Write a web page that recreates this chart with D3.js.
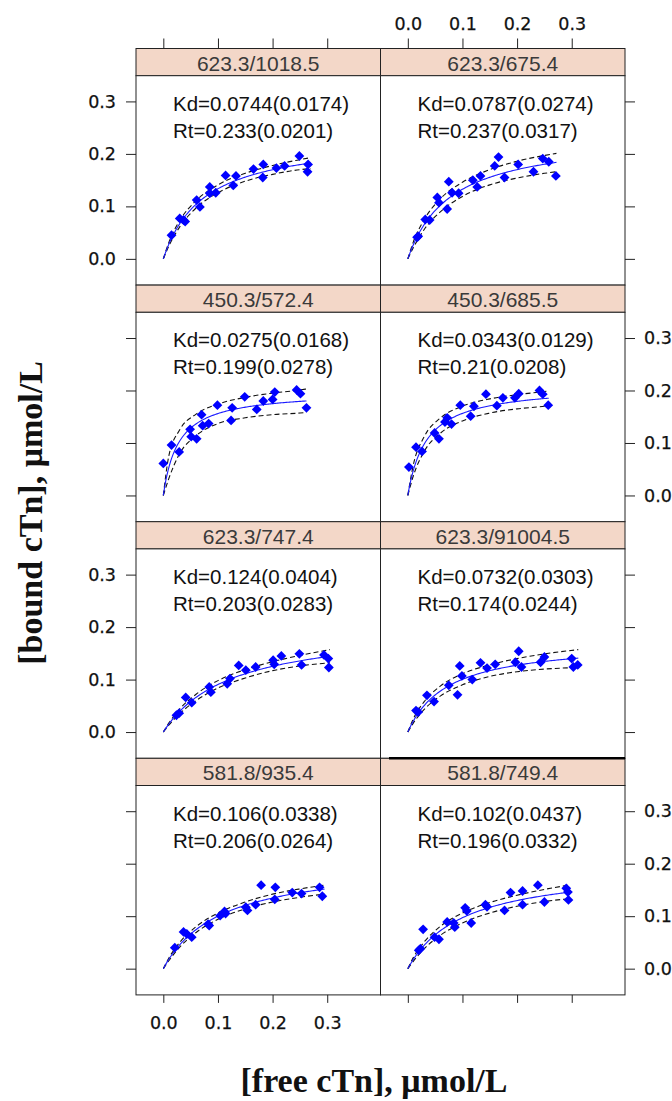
<!DOCTYPE html>
<html><head><meta charset="utf-8">
<script src="https://cdn.jsdelivr.net/npm/d3@7"></script>
<style>
body{margin:0;background:#fff;}
svg{display:block;}
.tick text{font-family:"DejaVu Sans",sans-serif;font-size:17.5px;fill:#111;stroke:#111;stroke-width:0.25px;}
.tick line{stroke:#222;stroke-width:1;}
</style>
</head><body>
<svg id="chart" width="672" height="1101"></svg>
<script>
// Panel names (row by row, left then right)
const panelNames = ["623.3/1018.5","623.3/675.4","450.3/572.4","450.3/685.5",
                    "623.3/747.4","623.3/91004.5","581.8/935.4","581.8/749.4"];
// Fitted binding parameters and their standard errors
const kdValues = [0.0744,0.0787,0.0275,0.0343,0.124,0.0732,0.106,0.102];
const kdErrors = ["0.0174","0.0274","0.0168","0.0129","0.0404","0.0303","0.0338","0.0437"];
const rtValues = [0.233,0.237,0.199,0.21,0.203,0.174,0.206,0.196];
const rtErrors = ["0.0201","0.0317","0.0278","0.0208","0.0283","0.0244","0.0264","0.0332"];

// Measured free cTn (x) per panel
const freeCTn = [
  [0.015,0.030,0.037,0.040,0.061,0.067,0.085,0.085,0.096,0.114,0.128,0.133,0.165,0.182,0.183,0.207,0.222,0.249,0.265,0.264],
  [0.017,0.019,0.032,0.040,0.054,0.057,0.072,0.075,0.081,0.093,0.119,0.127,0.133,0.159,0.166,0.177,0.202,0.230,0.247,0.258,0.271],
  [0.000,0.015,0.029,0.049,0.051,0.061,0.070,0.072,0.083,0.099,0.124,0.126,0.149,0.171,0.183,0.200,0.204,0.244,0.251,0.262],
  [0.002,0.015,0.026,0.049,0.057,0.068,0.072,0.080,0.096,0.115,0.121,0.143,0.163,0.174,0.196,0.203,0.241,0.247,0.257],
  [0.024,0.029,0.041,0.052,0.084,0.087,0.117,0.122,0.138,0.151,0.169,0.201,0.203,0.216,0.249,0.253,0.294,0.302,0.303],
  [0.015,0.019,0.035,0.048,0.075,0.091,0.095,0.099,0.118,0.133,0.145,0.160,0.197,0.203,0.208,0.243,0.250,0.300,0.303,0.311],
  [0.021,0.037,0.043,0.052,0.082,0.084,0.104,0.112,0.114,0.151,0.154,0.169,0.179,0.204,0.205,0.236,0.253,0.286,0.291],
  [0.020,0.023,0.028,0.049,0.057,0.072,0.086,0.084,0.105,0.108,0.116,0.142,0.145,0.177,0.188,0.210,0.210,0.238,0.250,0.290,0.293,0.294]
];
// Measured bound cTn (y) per panel
const boundCTn = [
  [0.045,0.077,0.074,0.071,0.112,0.099,0.137,0.125,0.126,0.159,0.140,0.158,0.171,0.155,0.180,0.173,0.177,0.196,0.180,0.166],
  [0.041,0.043,0.075,0.074,0.117,0.107,0.095,0.147,0.126,0.125,0.150,0.137,0.158,0.177,0.194,0.155,0.180,0.166,0.191,0.185,0.158],
  [0.061,0.096,0.083,0.126,0.112,0.108,0.154,0.133,0.137,0.172,0.143,0.167,0.188,0.164,0.180,0.183,0.197,0.201,0.194,0.167],
  [0.054,0.092,0.084,0.119,0.108,0.140,0.148,0.136,0.172,0.151,0.170,0.193,0.171,0.186,0.186,0.194,0.200,0.193,0.172],
  [0.032,0.036,0.066,0.056,0.086,0.076,0.092,0.102,0.127,0.118,0.124,0.137,0.129,0.145,0.149,0.128,0.147,0.140,0.123],
  [0.041,0.038,0.070,0.058,0.089,0.071,0.126,0.107,0.100,0.132,0.122,0.129,0.133,0.154,0.124,0.133,0.143,0.140,0.124,0.128],
  [0.040,0.070,0.066,0.060,0.085,0.082,0.101,0.109,0.105,0.117,0.111,0.122,0.159,0.132,0.155,0.145,0.143,0.155,0.138],
  [0.035,0.038,0.075,0.060,0.056,0.089,0.079,0.087,0.116,0.110,0.087,0.122,0.118,0.111,0.145,0.122,0.148,0.159,0.127,0.153,0.146,0.131]
];

// Upper end of the fitted range per panel
const fitEnd = [0.270,0.272,0.262,0.258,0.305,0.312,0.295,0.294];
// Confidence band: free cTn positions (last one is fitEnd) and bound values
const bandGrid = [0,0.01,0.03,0.06,0.1,0.15,0.2,0.25];
const bandUpper = [
  [0,0.031,0.073,0.111,0.141,0.163,0.178,0.189,0.193],
  [0,0.032,0.075,0.115,0.146,0.170,0.186,0.197,0.201],
  [0,0.075,0.125,0.155,0.174,0.187,0.195,0.201,0.203],
  [0,0.058,0.112,0.148,0.170,0.184,0.192,0.198,0.199],
  [0,0.017,0.044,0.072,0.098,0.119,0.134,0.146,0.157],
  [0,0.025,0.058,0.088,0.111,0.128,0.140,0.149,0.157],
  [0,0.020,0.050,0.080,0.106,0.127,0.142,0.152,0.159],
  [0,0.021,0.051,0.081,0.106,0.126,0.140,0.151,0.159]
];
const bandLower = [
  [0,0.024,0.061,0.097,0.126,0.148,0.161,0.170,0.172],
  [0,0.021,0.056,0.090,0.119,0.141,0.154,0.163,0.166],
  [0,0.032,0.080,0.114,0.137,0.148,0.154,0.157,0.158],
  [0,0.037,0.084,0.119,0.142,0.157,0.165,0.170,0.171],
  [0,0.013,0.035,0.060,0.084,0.103,0.117,0.126,0.132],
  [0,0.017,0.043,0.069,0.090,0.106,0.115,0.120,0.123],
  [0,0.015,0.041,0.069,0.094,0.114,0.127,0.136,0.142],
  [0,0.014,0.038,0.064,0.087,0.106,0.119,0.128,0.133]
];

const xTicks = [0,0.1,0.2,0.3];
const yTicks = [0,0.1,0.2,0.3];

// Layout
const colLeft = [136, 380.5];
const panelW = 245.5;
const gridTop = 48.5;
const rowH = 236.6;
const stripH = 27.2;
const bodyH = rowH - stripH;

const svg = d3.select("#chart");
const x = d3.scaleLinear().domain([-0.05, 0.3975]).range([0, panelW - 1]);
const y = d3.scaleLinear().domain([-0.05, 0.349]).range([bodyH, 0]);
const fmt = d3.format(".1f");

const line = d3.line().x(d => x(d[0])).y(d => y(d[1]));
const bandLine = d3.line().x(d => x(d[0])).y(d => y(d[1])).curve(d3.curveMonotoneX);
const diamond = d3.symbol(d3.symbolSquare, 48);

panelNames.forEach((name, i) => {
  const row = Math.floor(i / 2), col = i % 2;
  const gx = colLeft[col], gy = gridTop + row * rowH;
  const g = svg.append("g").attr("transform", `translate(${gx},${gy})`);

  // strip
  g.append("rect").attr("x", 0).attr("y", 0).attr("width", panelW - 1).attr("height", stripH)
    .attr("fill", "#f3d7c8").attr("stroke", "#222").attr("stroke-width", 1);
  g.append("text").attr("x", (panelW - 1) / 2).attr("y", stripH - 5)
    .attr("text-anchor", "middle").attr("font-family", "'Liberation Sans',Arial,sans-serif")
    .attr("font-size", 21).attr("fill", "#3a3a3a").text(name);

  const body = g.append("g").attr("transform", `translate(0,${stripH})`);
  body.append("rect").attr("width", panelW - 1).attr("height", bodyH)
    .attr("fill", "#fff").attr("stroke", "#222").attr("stroke-width", 1);

  // axes on the outer edges, alternating labelled / tick-only
  const noLab = () => "";
  if (col === 0) {
    body.append("g").call(d3.axisLeft(y).tickValues(yTicks).tickSize(10).tickPadding(10)
      .tickFormat(row % 2 === 0 ? fmt : noLab)).call(a => a.select(".domain").remove());
  } else {
    body.append("g").attr("transform", `translate(${panelW - 1},0)`)
      .call(d3.axisRight(y).tickValues(yTicks).tickSize(10).tickPadding(9)
      .tickFormat(row % 2 === 1 ? fmt : noLab)).call(a => a.select(".domain").remove());
  }
  if (row === 0) {
    g.append("g").call(d3.axisTop(x).tickValues(xTicks).tickSize(10).tickPadding(9)
      .tickFormat(col === 1 ? fmt : noLab)).call(a => a.select(".domain").remove());
  }
  if (row === 3) {
    body.append("g").attr("transform", `translate(0,${bodyH})`)
      .call(d3.axisBottom(x).tickValues(xTicks).tickSize(8).tickPadding(14)
      .tickFormat(col === 0 ? fmt : noLab)).call(a => a.select(".domain").remove());
  }

  // Kd / Rt annotation
  const ann = body.append("text").attr("font-family", "'Liberation Sans',Arial,sans-serif")
    .attr("font-size", 20.5).attr("fill", "#111");
  ann.append("tspan").attr("x", 37).attr("y", 35)
    .text(`Kd=${kdValues[i]}(${kdErrors[i]})`);
  ann.append("tspan").attr("x", 37).attr("y", 62)
    .text(`Rt=${rtValues[i]}(${rtErrors[i]})`);

  // confidence band (dashed)
  const bx = bandGrid.concat([fitEnd[i]]);
  [bandUpper[i], bandLower[i]].forEach(vals => {
    body.append("path").datum(bx.map((v, k) => [v, vals[k]]))
      .attr("d", bandLine).attr("fill", "none").attr("stroke", "#111")
      .attr("stroke-width", 1.1).attr("stroke-dasharray", "5,3");
  });

  // fitted curve  B = Rt * F / (Kd + F)
  const fitPts = d3.range(0, 121).map(k => {
    const f = fitEnd[i] * k / 120;
    return [f, rtValues[i] * f / (kdValues[i] + f)];
  });
  body.append("path").datum(fitPts).attr("d", line)
    .attr("fill", "none").attr("stroke", "#1a1aff").attr("stroke-width", 1.1);

  // observations
  body.selectAll("path.pt").data(freeCTn[i].map((f, k) => [f, boundCTn[i][k]]))
    .join("path").attr("class", "pt")
    .attr("d", diamond)
    .attr("transform", d => `translate(${x(d[0])},${y(d[1])}) rotate(45)`)
    .attr("fill", "#0000ff");
});

// heavy rule above the last strip on the right
svg.append("line").attr("x1", 389).attr("x2", colLeft[1] + panelW - 1)
  .attr("y1", gridTop + 3 * rowH).attr("y2", gridTop + 3 * rowH)
  .attr("stroke", "#000").attr("stroke-width", 2.5);

// axis titles
svg.append("text").attr("transform", "translate(32,513) rotate(-90)")
  .attr("text-anchor", "middle").attr("dy", "0.3em")
  .attr("font-family", "'Liberation Serif','Times New Roman',serif").attr("font-weight", "bold")
  .attr("font-size", 34).attr("fill", "#111").text("[bound cTn], μmol/L");
svg.append("text").attr("x", 374).attr("y", 1092)
  .attr("text-anchor", "middle")
  .attr("font-family", "'Liberation Serif','Times New Roman',serif").attr("font-weight", "bold")
  .attr("font-size", 34).attr("fill", "#111").text("[free cTn], μmol/L");
</script>
</body></html>
